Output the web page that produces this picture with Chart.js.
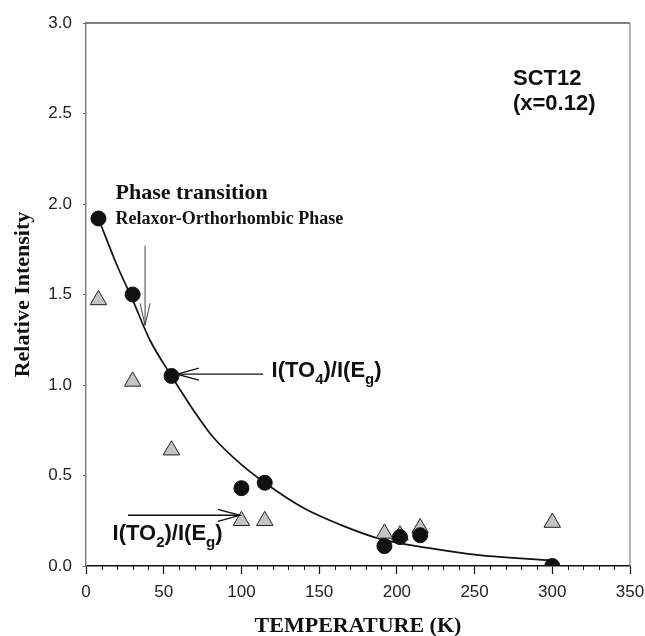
<!DOCTYPE html>
<html>
<head>
<meta charset="utf-8">
<title>SCT12 relative intensity</title>
<script src="https://cdn.jsdelivr.net/npm/chart.js@4.4.0/dist/chart.umd.min.js"></script>
<style>
  html, body { margin: 0; padding: 0; background: #fff; }
  #wrap { width: 645px; height: 636px; }
</style>
</head>
<body>
<div id="wrap"><canvas id="chart" width="645" height="636"></canvas></div>
<script>
// data
const tempTO4 = [8, 30, 55, 100, 115, 192, 202, 215, 300];
const ratioTO4 = [1.92, 1.50, 1.05, 0.43, 0.46, 0.11, 0.16, 0.17, 0.0];

const tempTO2 = [8, 30, 55, 100, 115, 192, 202, 215, 300];
const ratioTO2 = [1.47, 1.02, 0.64, 0.25, 0.25, 0.18, 0.17, 0.21, 0.24];

// fitted decay curve
const fitTemp = [8, 20, 30, 41, 55, 70, 82, 100, 115, 140, 163, 189, 220, 253, 300];
const fitRatio = [1.92, 1.66, 1.47, 1.25, 1.05, 0.85, 0.71, 0.56, 0.46, 0.32, 0.23, 0.15, 0.10, 0.06, 0.03];

const xTicks = [0, 50, 100, 150, 200, 250, 300, 350];
const yTicks = [0, 0.5, 1.0, 1.5, 2.0, 2.5, 3.0];

const toPts = (xs, ys) => xs.map((x, i) => ({ x: x, y: ys[i] }));

const SANS = '"Liberation Sans", Arial, sans-serif';
const SERIF = '"Liberation Serif", "Times New Roman", serif';

/* ---------- annotation plugin ---------- */
function arrowHead(ctx, x, y, dx, dy, len, half) {
  // open V head, tip at (x,y), pointing along (dx,dy)
  const bx = x - dx * len, by = y - dy * len;
  const nx = -dy, ny = dx;
  ctx.beginPath();
  ctx.moveTo(bx + nx * half, by + ny * half);
  ctx.lineTo(x, y);
  ctx.lineTo(bx - nx * half, by - ny * half);
  ctx.stroke();
}

function richText(ctx, parts, x, y, size) {
  // parts: [text, isSub]
  let cx = x;
  parts.forEach(([t, sub]) => {
    ctx.font = 'bold ' + (sub ? Math.round(size * 0.68) : size) + 'px ' + SANS;
    ctx.fillText(t, cx, sub ? y + size * 0.3 : y);
    cx += ctx.measureText(t).width;
  });
}

const notes = {
  id: 'notes',
  afterDatasetsDraw(chart) {
    const { ctx, chartArea: a, scales: { x, y } } = chart;
    ctx.save();

    // frame top + right
    ctx.lineWidth = 1.3;
    ctx.strokeStyle = '#555';
    ctx.beginPath(); ctx.moveTo(a.left, a.top); ctx.lineTo(a.right, a.top); ctx.stroke();
    ctx.strokeStyle = '#888';
    ctx.beginPath(); ctx.moveTo(a.right, a.top); ctx.lineTo(a.right, a.bottom); ctx.stroke();

    // minor ticks on x
    ctx.strokeStyle = '#222';
    ctx.lineWidth = 1;
    for (let v = 10; v < 350; v += 10) {
      if (v % 50 === 0) continue;
      const px = Math.round(x.getPixelForValue(v)) + 0.5;
      ctx.beginPath(); ctx.moveTo(px, a.bottom); ctx.lineTo(px, a.bottom + 4); ctx.stroke();
    }

    // phase transition arrow (vertical)
    ctx.strokeStyle = '#444';
    ctx.lineWidth = 1;
    let ax = x.getPixelForValue(38), ay1 = y.getPixelForValue(1.77), ay2 = y.getPixelForValue(1.33);
    ctx.beginPath(); ctx.moveTo(ax, ay1); ctx.lineTo(ax, ay2); ctx.stroke();
    arrowHead(ctx, ax, ay2, 0, 1, 22, 5);

    // TO4 arrow
    ctx.strokeStyle = '#111';
    ctx.lineWidth = 1.4;
    let by = y.getPixelForValue(1.06);
    let bx1 = x.getPixelForValue(114), bx2 = x.getPixelForValue(58.5);
    ctx.beginPath(); ctx.moveTo(bx1, by); ctx.lineTo(bx2, by); ctx.stroke();
    arrowHead(ctx, bx2, by, -1, 0, 22, 6);

    // TO2 arrow
    let cy = y.getPixelForValue(0.28);
    let cx1 = x.getPixelForValue(27), cx2 = x.getPixelForValue(99);
    ctx.beginPath(); ctx.moveTo(cx1, cy); ctx.lineTo(cx2, cy); ctx.stroke();
    arrowHead(ctx, cx2, cy, 1, 0, 22, 6);

    // texts
    ctx.fillStyle = '#111';
    ctx.textBaseline = 'alphabetic';
    ctx.textAlign = 'left';
    ctx.font = 'bold 22px ' + SERIF;
    ctx.fillText('Phase transition', x.getPixelForValue(19), y.getPixelForValue(2.03));
    ctx.font = 'bold 18px ' + SERIF;
    ctx.fillText('Relaxor-Orthorhombic Phase', x.getPixelForValue(19), y.getPixelForValue(1.89));

    ctx.font = 'bold 22px ' + SANS;
    ctx.fillText('SCT12', x.getPixelForValue(274.7), y.getPixelForValue(2.657));
    ctx.fillText('(x=0.12)', x.getPixelForValue(274.7), y.getPixelForValue(2.52));

    richText(ctx, [['I(TO', false], ['4', true], [')/I(E', false], ['g', true], [')', false]],
      x.getPixelForValue(119.4), y.getPixelForValue(1.044), 22);
    richText(ctx, [['I(TO', false], ['2', true], [')/I(E', false], ['g', true], [')', false]],
      x.getPixelForValue(17.1), y.getPixelForValue(0.144), 22);

    ctx.restore();
  }
};

new Chart(document.getElementById('chart'), {
  type: 'scatter',
  data: {
    datasets: [
      {
        label: 'I(TO4)/I(Eg)',
        data: toPts(tempTO4, ratioTO4),
        pointStyle: 'circle',
        pointRadius: 7.5,
        backgroundColor: '#111',
        borderColor: '#111',
        borderWidth: 1
      },
      {
        label: 'I(TO2)/I(Eg)',
        data: toPts(tempTO2, ratioTO2),
        pointStyle: 'triangle',
        pointRadius: 9.5,
        backgroundColor: '#c4c4c4',
        borderColor: '#222',
        borderWidth: 1
      },
      {
        label: 'fit',
        data: toPts(fitTemp, fitRatio),
        showLine: true,
        pointRadius: 0,
        borderColor: '#111',
        borderWidth: 1.7,
        cubicInterpolationMode: 'monotone',
        fill: false
      }
    ]
  },
  options: {
    responsive: false,
    devicePixelRatio: 1,
    animation: false,
    events: [],
    layout: { padding: { top: 23, right: 15, left: 0, bottom: 0 } },
    plugins: { legend: { display: false }, tooltip: { enabled: false } },
    scales: {
      x: {
        type: 'linear',
        min: 0, max: 350,
        afterFit: s => { s.height = 70; s.paddingLeft = 0; s.paddingRight = 0; },
        afterBuildTicks: s => { s.ticks = xTicks.map(v => ({ value: v })); },
        ticks: {
          font: { family: SANS, size: 17 },
          color: '#222',
          padding: 8,
          maxRotation: 0,
          callback: v => String(v)
        },
        grid: { display: true, drawOnChartArea: false, drawTicks: true, tickLength: 8, tickColor: '#111', tickWidth: 1.2 },
        border: { display: true, color: '#111', width: 1.4 },
        title: {
          display: true,
          text: 'TEMPERATURE (K)',
          color: '#111',
          font: { family: SERIF, size: 22, weight: 'bold', lineHeight: 0.9 },
          padding: { top: 0, bottom: 0 }
        }
      },
      y: {
        type: 'linear',
        min: 0, max: 3,
        afterFit: s => { s.width = 86; s.paddingTop = 0; s.paddingBottom = 0; },
        afterBuildTicks: s => { s.ticks = yTicks.map(v => ({ value: v })); },
        ticks: {
          font: { family: SANS, size: 17 },
          color: '#222',
          padding: 11,
          callback: v => Number(v).toFixed(1)
        },
        grid: { display: true, drawOnChartArea: false, drawTicks: true, tickLength: 3, tickColor: '#666', tickWidth: 1 },
        border: { display: true, color: '#777', width: 1.4 },
        title: {
          display: true,
          text: 'Relative Intensity',
          color: '#111',
          font: { family: SERIF, size: 22, weight: 'bold', lineHeight: 1 },
          padding: { top: 12, bottom: 0 }
        }
      }
    }
  },
  plugins: [notes]
});
</script>
</body>
</html>
